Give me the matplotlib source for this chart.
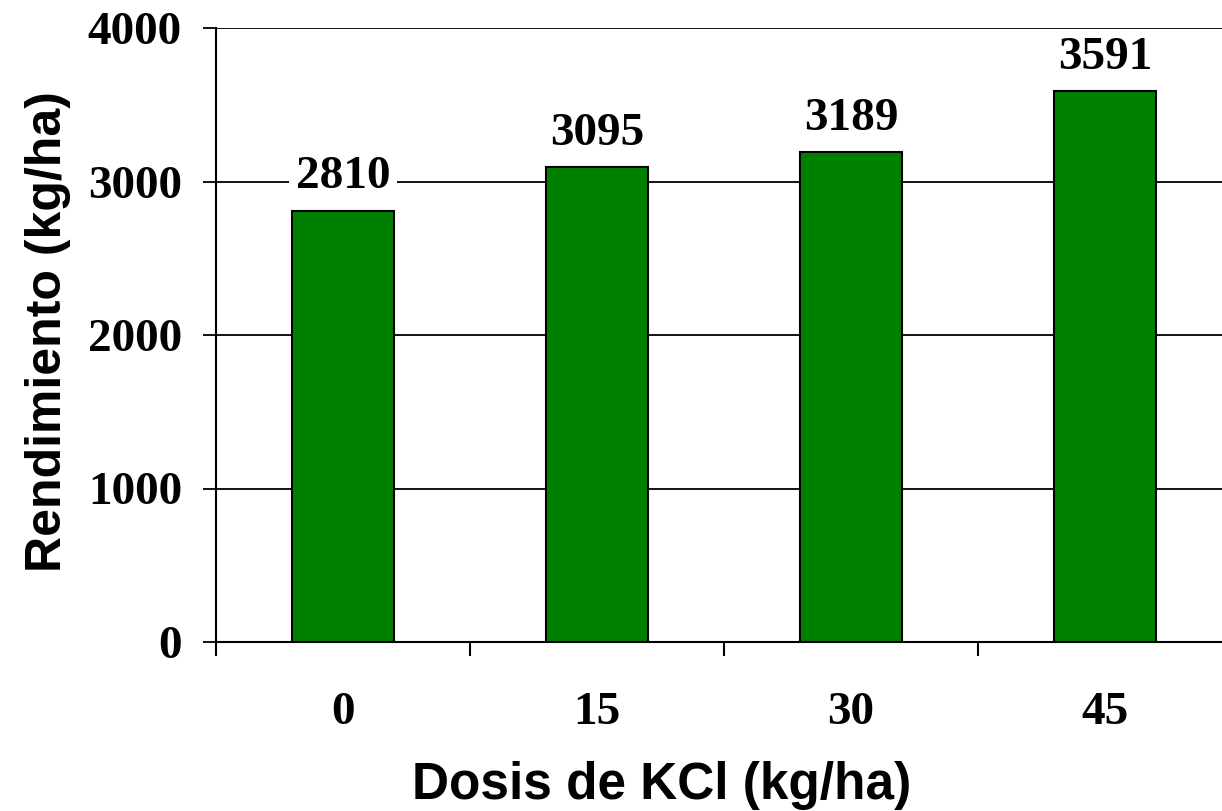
import matplotlib
matplotlib.use("Agg")
import matplotlib.pyplot as plt

categories = ["0", "15", "30", "45"]
values = [2810, 3095, 3189, 3591]
y_ticks = [0, 1000, 2000, 3000, 4000]

fig = plt.figure(figsize=(12.22, 8.11), dpi=100)
ax = fig.add_axes([216/1222, 169/811, 1016/1222, 614/811])

x = list(range(len(categories)))
ax.bar(x, values, width=0.40, color="#008000", edgecolor="black", linewidth=1.5, zorder=3)

ax.set_xlim(-0.5, len(categories) - 0.5)
ax.set_ylim(0, 4000)
ax.set_yticks(y_ticks)
ax.yaxis.grid(True, color="black", linewidth=1.3, zorder=0)
ax.set_axisbelow(True)

serif = ["Liberation Serif", "DejaVu Serif"]
sans = ["Liberation Sans", "DejaVu Sans"]

ax.set_xticks(x)
ax.set_xticklabels(categories, fontfamily=serif, fontweight="bold", fontsize=34)
ax.set_xticks([i - 0.5 for i in range(len(categories) + 1)], minor=True)
ax.tick_params(axis="x", which="major", length=0, pad=36)
ax.tick_params(axis="x", which="minor", length=10, width=1.5, direction="out", color="black")
ax.set_yticklabels([str(t) for t in y_ticks], fontfamily=serif, fontweight="bold", fontsize=34)
ax.tick_params(axis="y", length=9.5, width=1.3, direction="out", pad=15)

for s in ["top", "right"]:
    ax.spines[s].set_visible(False)
ax.spines["left"].set_linewidth(1.5)
ax.spines["bottom"].set_linewidth(1.5)

for xi, v in zip(x, values):
    ax.annotate(str(v), xy=(xi, v), xytext=(0, 16), textcoords="offset points",
                ha="center", va="baseline", fontfamily=serif, fontweight="bold", fontsize=34,
                bbox=dict(boxstyle="square,pad=0.15", fc="white", ec="none"), zorder=4)

fig.text(662/1222, 1 - 799/811, "Dosis de KCl (kg/ha)", ha="center", va="baseline",
         fontfamily=sans, fontweight="bold", fontsize=37)
fig.text(48/1222, 1 - 332/811, "Rendimiento (kg/ha)", ha="center", va="center", rotation=90,
         fontfamily=sans, fontweight="bold", fontsize=36)

fig.savefig("out.png", dpi=100)
